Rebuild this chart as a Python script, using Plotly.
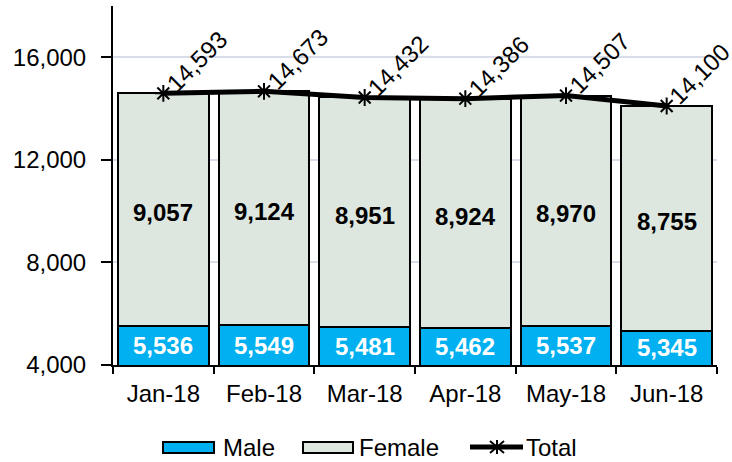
import plotly.graph_objects as go

months = ["Jan-18", "Feb-18", "Mar-18", "Apr-18", "May-18", "Jun-18"]
male = [5536, 5549, 5481, 5462, 5537, 5345]
female = [9057, 9124, 8951, 8924, 8970, 8755]
total = [14593, 14673, 14432, 14386, 14507, 14100]
series_names = ["Male", "Female", "Total"]

FONT = "Liberation Sans, Arial, sans-serif"
FS = 24
MALE_C = "#00B0F0"
FEMALE_C = "#DDE7DF"
y_min, y_max = 4000, 18000

W, H = 732, 462
ML, MR, MT, MB = 113, 15, 6, 97
PW, PH = W - ML - MR, H - MT - MB


def px_x(px):
    return (px - ML) / PW


def px_y(py):
    return (H - MB - py) / PH


fig = go.Figure()
fig.add_trace(go.Bar(
    x=months, y=male, name=series_names[0], showlegend=False,
    marker=dict(color=MALE_C, line=dict(color="black", width=2)),
))
fig.add_trace(go.Bar(
    x=months, y=female, name=series_names[1], showlegend=False,
    marker=dict(color=FEMALE_C, line=dict(color="black", width=2)),
))
fig.add_trace(go.Scatter(
    x=months, y=total, name=series_names[2], mode="lines+markers",
    showlegend=False,
    line=dict(color="black", width=5),
    marker=dict(symbol="asterisk-open", size=14, color="black",
                line=dict(color="black", width=2)),
))

annotations = []
for m, mv in zip(months, male):
    annotations.append(dict(
        x=m, y=(y_min + mv) / 2, text=f"<b>{mv:,}</b>", showarrow=False,
        font=dict(family=FONT, size=FS, color="white"),
    ))
for m, mv, fv in zip(months, male, female):
    annotations.append(dict(
        x=m, y=mv + fv / 2, text=f"<b>{fv:,}</b>", showarrow=False,
        yshift=-3, font=dict(family=FONT, size=FS, color="black"),
    ))
for m, t in zip(months, total):
    annotations.append(dict(
        x=m, y=t, text=f"{t:,}", showarrow=False, textangle=-45,
        xanchor="left", yanchor="bottom", xshift=-5, yshift=-6,
        font=dict(family=FONT, size=FS, color="black"),
    ))

# manual legend (wide swatches like the original)
shapes = []
ly = px_y(447)
shapes.append(dict(type="rect", xref="paper", yref="paper",
                   x0=px_x(163), x1=px_x(214), y0=px_y(453), y1=px_y(442),
                   fillcolor=MALE_C, line=dict(color="black", width=2)))
shapes.append(dict(type="rect", xref="paper", yref="paper",
                   x0=px_x(303), x1=px_x(353), y0=px_y(453), y1=px_y(442),
                   fillcolor=FEMALE_C, line=dict(color="black", width=2)))
shapes.append(dict(type="line", xref="paper", yref="paper",
                   x0=px_x(470), x1=px_x(523), y0=ly, y1=ly,
                   line=dict(color="black", width=5)))
for (ax0, ay0, ax1, ay1) in [(497, 440, 497, 454), (490, 441, 504, 453),
                             (490, 453, 504, 441)]:
    shapes.append(dict(type="line", xref="paper", yref="paper",
                       x0=px_x(ax0), x1=px_x(ax1), y0=px_y(ay0), y1=px_y(ay1),
                       line=dict(color="black", width=2)))
for name, lx in zip(series_names, [221, 357, 524]):
    annotations.append(dict(
        xref="paper", yref="paper", x=px_x(lx), y=ly, text=name,
        showarrow=False, xanchor="left", yanchor="middle",
        font=dict(family=FONT, size=FS, color="black"),
    ))

fig.update_layout(
    barmode="stack", bargap=0.1,
    width=W, height=H,
    margin=dict(l=ML, r=MR, t=MT, b=MB, autoexpand=False),
    plot_bgcolor="white", paper_bgcolor="white",
    font=dict(family=FONT, size=FS, color="black"),
    xaxis=dict(
        showline=True, linecolor="black", linewidth=2,
        ticks="outside", tickson="boundaries", ticklen=7, tickwidth=1.5,
        tickcolor="black", ticklabelstandoff=6,
        tickfont=dict(size=FS), range=[-0.5, 5.5], automargin=False,
    ),
    yaxis=dict(
        range=[y_min, y_max], tickvals=[4000, 8000, 12000, 16000],
        tickformat=",", showline=True, linecolor="black", linewidth=2,
        ticks="outside", ticklen=10, tickwidth=1.5, tickcolor="black",
        ticklabelstandoff=10,
        showgrid=True, gridcolor="#D9DDEA", gridwidth=2,
        tickfont=dict(size=FS), zeroline=False, automargin=False,
    ),
    annotations=annotations,
    shapes=shapes,
    showlegend=False,
)

fig.write_html("out.html", config={"displayModeBar": False},
               post_script="document.body.style.margin='0';")
